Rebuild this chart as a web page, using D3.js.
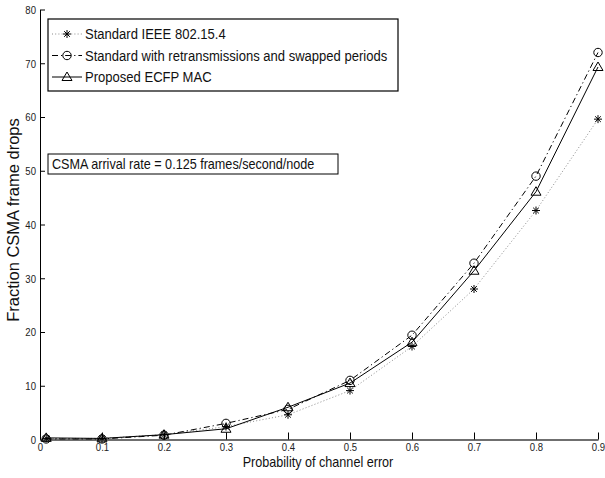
<!DOCTYPE html>
<html>
<head>
<meta charset="utf-8">
<script src="https://cdn.jsdelivr.net/npm/d3@7"></script>
<style>
  html, body { margin: 0; padding: 0; background: #fff; }
  svg { display: block; }
  text { font-family: "Liberation Sans", Arial, Helvetica, sans-serif; }
</style>
</head>
<body>
<svg id="chart" width="605" height="478"></svg>
<script>
// Probability of channel error (x) and the three protocol series (y)
const errorProb = [0.01, 0.1, 0.2, 0.3, 0.4, 0.5, 0.6, 0.7, 0.8, 0.9];
const standardIEEE = [0.2, 0.2, 0.9, 2.4, 4.6, 9.1, 17.3, 28.0, 42.6, 59.6];
const retransSwapped = [0.1, 0.1, 0.8, 3.0, 5.6, 11.0, 19.4, 32.8, 49.0, 72.0];
const ecfpMAC = [0.3, 0.2, 0.9, 2.0, 6.0, 10.5, 18.1, 31.4, 46.1, 69.3];

const xTicks = [0, 0.1, 0.2, 0.3, 0.4, 0.5, 0.6, 0.7, 0.8, 0.9];
const yTicks = [0, 10, 20, 30, 40, 50, 60, 70, 80];
const seriesNames = [
  "Standard IEEE 802.15.4",
  "Standard with retransmissions and swapped periods",
  "Proposed ECFP MAC"
];
const noteText = "CSMA arrival rate = 0.125 frames/second/node";
const xTitle = "Probability of channel error";
const yTitle = "Fraction CSMA frame drops";

const NARROW = 0.87; // horizontal squeeze for the condensed lettering

const svg = d3.select("#chart");
const x = d3.scaleLinear().domain([0, 0.9]).range([40, 598]);
const y = d3.scaleLinear().domain([0, 80]).range([439.5, 9.5]);

const series = [
  { name: seriesNames[0], values: standardIEEE, stroke: "#8a8a8a", dash: "1,2.2", marker: "star" },
  { name: seriesNames[1], values: retransSwapped, stroke: "#000", dash: "6,3,1.2,3", marker: "circle" },
  { name: seriesNames[2], values: ecfpMAC, stroke: "#000", dash: null, marker: "triangle" }
];

// Condensed text: positioned by translate, squeezed horizontally
function narrowText(parent, tx, ty, str, size, anchor, dy) {
  return parent.append("text")
    .attr("transform", `translate(${tx},${ty}) scale(${NARROW},1)`)
    .attr("text-anchor", anchor || "start")
    .attr("dy", dy || 0)
    .attr("font-size", size).attr("fill", "#111").text(str);
}

// Axes: ticks point into the plot, no box
const yAxis = d3.axisLeft(y).tickValues(yTicks).tickSize(-5).tickSizeOuter(0).tickFormat(d3.format("d"));
const gy = svg.append("g").attr("transform", `translate(${x(0)},0)`).call(yAxis);
gy.select(".domain").attr("stroke", "#000").attr("stroke-width", 1);
gy.selectAll(".tick line").attr("stroke", "#000");
gy.selectAll(".tick text").remove();
gy.selectAll(".tick").each(function(d) {
  narrowText(d3.select(this), -4, 0, d3.format("d")(d), 11, "end", "0.35em").attr("fill", "#222");
});

const xAxis = d3.axisBottom(x).tickValues(xTicks).tickSize(-7).tickSizeOuter(0);
const gx = svg.append("g").attr("transform", `translate(0,${y(0)})`).call(xAxis);
gx.select(".domain").attr("stroke", "#6f6f6f").attr("stroke-width", 2);
gx.selectAll(".tick line").attr("stroke", "#000");
gx.selectAll(".tick text").remove();
gx.selectAll(".tick").each(function(d) {
  narrowText(d3.select(this), 0, 11.5, d === 0 ? "0" : d3.format(".1f")(d), 11, "middle").attr("fill", "#222");
});

// Axis titles
narrowText(svg, 318, 467, xTitle, 14.5, "middle");
svg.append("text")
  .attr("transform", "translate(19,220) rotate(-90)")
  .attr("text-anchor", "middle")
  .attr("font-size", 16.5).attr("fill", "#111").text(yTitle);

// Marker drawing
function drawMarker(g, type, cx, cy) {
  if (type === "star") {
    const r = 4;
    const s = r * Math.SQRT1_2;
    const p = `M${cx - r},${cy}L${cx + r},${cy}M${cx},${cy - r}L${cx},${cy + r}` +
              `M${cx - s},${cy - s}L${cx + s},${cy + s}M${cx - s},${cy + s}L${cx + s},${cy - s}`;
    g.append("path").attr("d", p).attr("stroke", "#000").attr("stroke-width", 1).attr("fill", "none");
  } else if (type === "circle") {
    g.append("circle").attr("cx", cx).attr("cy", cy).attr("r", 4.2)
      .attr("fill", "none").attr("stroke", "#000").attr("stroke-width", 1);
  } else {
    const h = 5;
    g.append("path")
      .attr("d", `M${cx},${cy - h}L${cx + h},${cy + h * 0.7}L${cx - h},${cy + h * 0.7}Z`)
      .attr("fill", "none").attr("stroke", "#000").attr("stroke-width", 1);
  }
}

const line = d3.line().x(d => x(d[0])).y(d => y(d[1]));
const plot = svg.append("g");
series.forEach(s => {
  const pts = errorProb.map((p, i) => [p, s.values[i]]);
  plot.append("path").attr("d", line(pts))
    .attr("fill", "none").attr("stroke", s.stroke).attr("stroke-width", 1)
    .attr("stroke-dasharray", s.dash);
  const mg = plot.append("g");
  pts.forEach(d => drawMarker(mg, s.marker, x(d[0]), y(d[1])));
});

// Legend
const legend = svg.append("g");
legend.append("rect").attr("x", 48).attr("y", 19).attr("width", 350).attr("height", 72)
  .attr("fill", "#fff").attr("stroke", "#000").attr("stroke-width", 1.2);
const rowY = [34, 55.5, 77];
series.forEach((s, i) => {
  legend.append("line").attr("x1", 52).attr("x2", 82).attr("y1", rowY[i]).attr("y2", rowY[i])
    .attr("stroke", s.stroke).attr("stroke-width", 1).attr("stroke-dasharray", s.dash);
  drawMarker(legend, s.marker, 67, rowY[i]);
  narrowText(legend, 85, rowY[i], s.name, 15, "start", "0.36em");
});

// Annotation box
const note = svg.append("g");
note.append("rect").attr("x", 48).attr("y", 154).attr("width", 290).attr("height", 20)
  .attr("fill", "#fff").attr("stroke", "#000").attr("stroke-width", 1);
narrowText(note, 52, 164, noteText, 14.5, "start", "0.36em");
</script>
</body>
</html>
